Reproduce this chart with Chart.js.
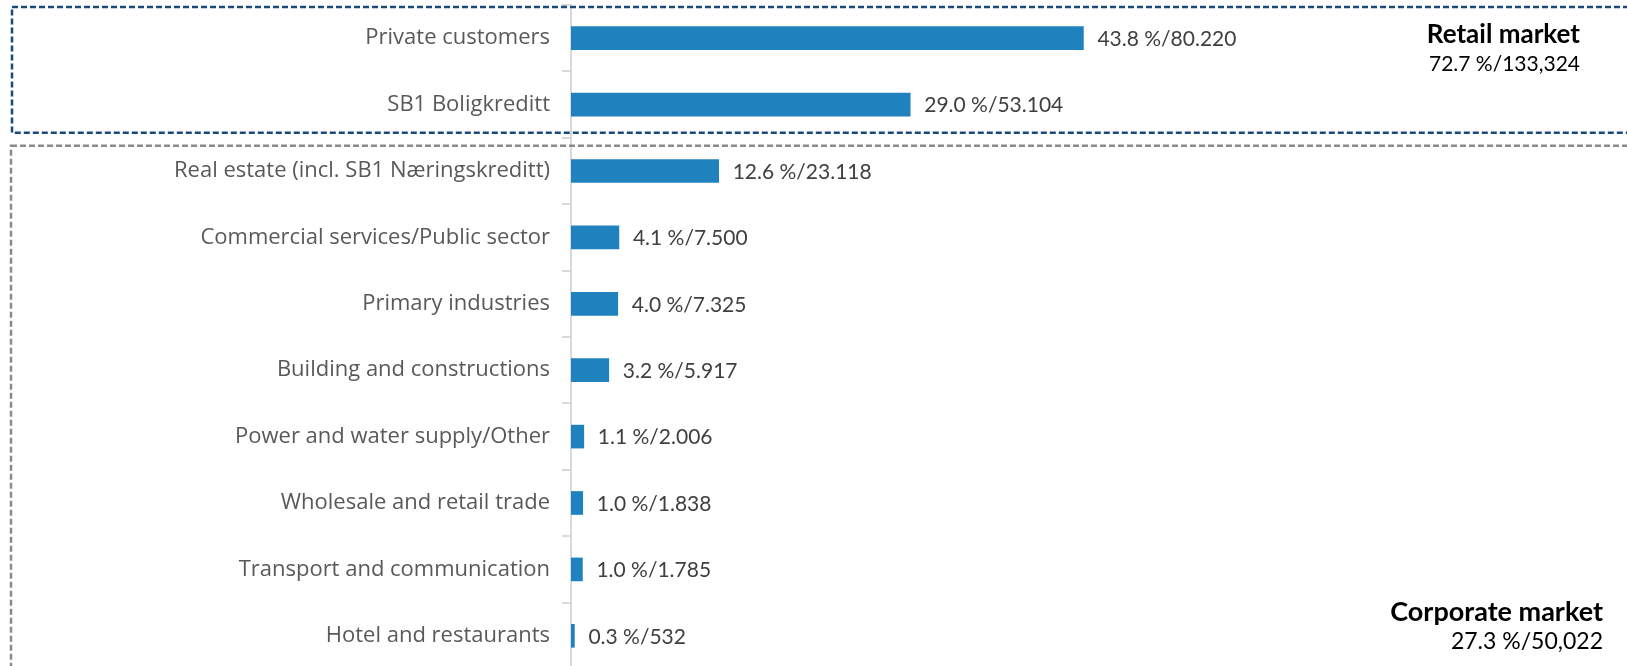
<!DOCTYPE html>
<html>
<head>
<meta charset="utf-8">
<script src="https://cdn.jsdelivr.net/npm/chart.js@4.4.0/dist/chart.umd.min.js"></script>
<style>
    html, body { margin: 0; padding: 0; background: #ffffff; overflow: hidden; }
    #chartContainer { width: 1627px; height: 669px; position: relative; }
</style>
</head>
<body>
<div id="chartContainer">
    <canvas id="myChart"></canvas>
</div>
<script>
// loans by sector, NOK million
var sectors = [
    "Private customers",
    "SB1 Boligkreditt",
    "Real estate (incl. SB1 Næringskreditt)",
    "Commercial services/Public sector",
    "Primary industries",
    "Building and constructions",
    "Power and water supply/Other",
    "Wholesale and retail trade",
    "Transport and communication",
    "Hotel and restaurants"
];
var amounts = [80220, 53104, 23118, 7500, 7325, 5917, 2006, 1838, 1785, 532];
var shares = ["43.8", "29.0", "12.6", "4.1", "4.0", "3.2", "1.1", "1.0", "1.0", "0.3"];
var amountLabels = ["80.220", "53.104", "23.118", "7.500", "7.325", "5.917", "2.006", "1.838", "1.785", "532"];

var segmentTitles = ["Retail market", "Corporate market"];
var segmentTotals = ["72.7 %/133,324", "27.3 %/50,022"];

var barColor = '#1f82be';
var valueFont = '21px Lato, "Open Sans", sans-serif';

// value text right of each bar
var valueLabels = {
    id: 'valueLabels',
    afterDatasetsDraw: function (chart) {
        var ctx = chart.ctx;
        var meta = chart.getDatasetMeta(0);
        ctx.save();
        ctx.font = valueFont;
        ctx.fillStyle = '#404040';
        ctx.textAlign = 'left';
        ctx.textBaseline = 'middle';
        meta.data.forEach(function (bar, i) {
            ctx.fillText(shares[i] + ' %/' + amountLabels[i], bar.x + 14, bar.y + 1);
        });
        ctx.restore();
    }
};

// dashed frames around the retail and corporate groups, plus their totals
var segmentBoxes = {
    id: 'segmentBoxes',
    afterDraw: function (chart) {
        var ctx = chart.ctx;
        var y = chart.scales.y;
        var split = (y.getPixelForValue(1) + y.getPixelForValue(2)) / 2;
        var w = chart.width;
        var h = chart.height;

        ctx.save();
        ctx.lineWidth = 2.5;
        ctx.setLineDash([6, 3]);

        ctx.strokeStyle = '#1a4a7a';
        ctx.strokeRect(12, 7, w + 20, split - 12);

        ctx.strokeStyle = '#8a8a8a';
        ctx.strokeRect(11, split + 8, w + 20, h + 20);

        ctx.setLineDash([]);
        ctx.fillStyle = '#000000';
        ctx.textAlign = 'right';
        ctx.textBaseline = 'middle';

        ctx.font = 'bold 26px Lato, "Open Sans", sans-serif';
        ctx.fillText(segmentTitles[0], 1580, 35);
        ctx.font = '21px Lato, "Open Sans", sans-serif';
        ctx.fillText(segmentTotals[0], 1580, 64);

        ctx.font = 'bold 27px Lato, "Open Sans", sans-serif';
        ctx.fillText(segmentTitles[1], 1603, 612);
        ctx.font = '23px Lato, "Open Sans", sans-serif';
        ctx.fillText(segmentTotals[1], 1603, 642);
        ctx.restore();
    }
};

new Chart("myChart", {
    type: "bar",
    data: {
        labels: sectors,
        datasets: [{
            data: amounts,
            backgroundColor: barColor,
            borderWidth: 0,
            barThickness: 23
        }]
    },
    plugins: [valueLabels, segmentBoxes],
    options: {
        indexAxis: 'y',
        responsive: true,
        maintainAspectRatio: false,
        animation: false,
        layout: {
            padding: { top: 5, right: 34, bottom: 0, left: 0 }
        },
        plugins: {
            legend: { display: false },
            tooltip: { enabled: false }
        },
        scales: {
            x: {
                display: false,
                min: 0,
                max: 160000
            },
            y: {
                afterFit: function (scale) {
                    scale.width = 571;
                    scale.paddingTop = 0;
                    scale.paddingBottom = 0;
                },
                grid: {
                    display: true,
                    drawOnChartArea: false,
                    drawTicks: true,
                    tickLength: 9,
                    offset: true,
                    color: '#d9d9d9',
                    lineWidth: 2
                },
                border: { display: true, color: '#d9d9d9', width: 2 },
                ticks: {
                    color: '#595959',
                    padding: 12,
                    font: { family: '"Open Sans", Lato, sans-serif', size: 22 }
                }
            }
        }
    }
});
</script>
</body>
</html>
